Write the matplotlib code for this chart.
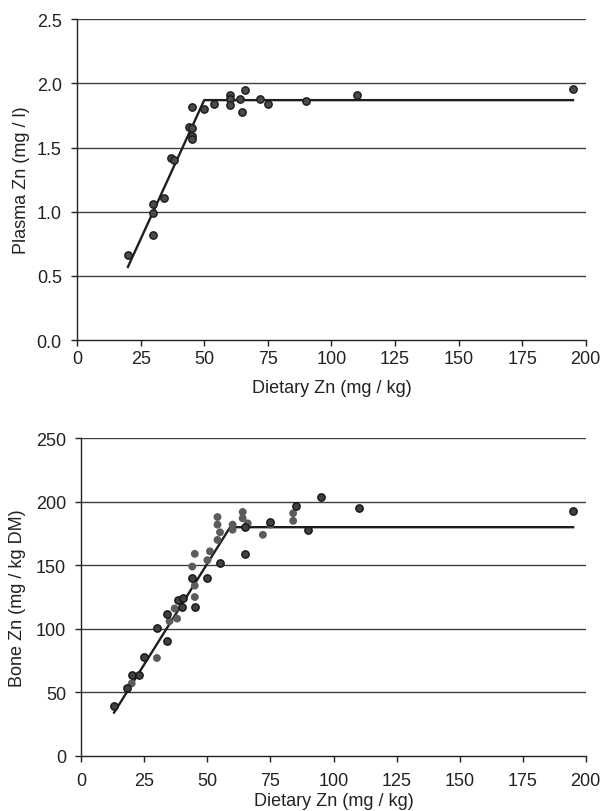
import matplotlib
matplotlib.use("Agg")
import matplotlib.pyplot as plt

plt.rcParams['font.family'] = ['Liberation Sans', 'DejaVu Sans']

# plasma Zn panel
plasma_x = [20, 30, 30, 30, 34, 37, 38, 44, 45, 45, 45, 45, 50, 54, 60, 60, 60, 64, 65, 66, 72, 75, 90, 110, 195]
plasma_y = [0.66, 0.82, 0.99, 1.06, 1.11, 1.42, 1.40, 1.66, 1.65, 1.59, 1.57, 1.82, 1.80, 1.84,
            1.91, 1.88, 1.83, 1.88, 1.78, 1.95, 1.88, 1.84, 1.86, 1.91, 1.96]
plasma_fit_x = [20, 50, 195]
plasma_fit_y = [0.57, 1.87, 1.87]

# bone Zn panel: two sets of points
bone_dark_x = [13, 18, 20, 23, 25, 30, 34, 34, 38.5, 40, 40.5, 44, 45, 50, 55, 65, 65, 75, 85, 90, 95, 110, 195]
bone_dark_y = [39, 53, 64, 64, 78, 101, 90, 112, 123, 117, 124, 140, 117, 140, 152, 180, 159, 184, 197, 178, 204, 195, 193]
bone_gray_x = [20, 30, 35, 37, 38, 44, 45, 45, 45, 50, 51, 54, 54, 54, 55, 60, 60, 64, 64, 66, 72, 75, 84, 84]
bone_gray_y = [57, 77, 106, 116, 108, 149, 159, 134, 125, 154, 161, 188, 182, 170, 176, 182, 178, 192, 187, 183, 174, 182, 191, 185]
bone_fit_x = [13, 59, 195]
bone_fit_y = [34, 180, 180]

fig = plt.figure(figsize=(6.02, 8.12), dpi=100)
ax1 = fig.add_axes([0.128, 0.580, 0.845, 0.395])
ax2 = fig.add_axes([0.135, 0.068, 0.838, 0.391])


def style(ax, yticks, ylabel, xpad, xlabelpad, ylabelpad):
    ax.set_xlim(0, 200)
    ax.set_xticks(range(0, 201, 25))
    ax.set_ylim(yticks[0], yticks[-1])
    ax.set_yticks(yticks)
    for y in yticks[1:]:
        ax.axhline(y, color="#3f3f3f", lw=1.0, zorder=1)
    for s in ("top", "right"):
        ax.spines[s].set_visible(False)
    for s in ("left", "bottom"):
        ax.spines[s].set_color("#222222")
        ax.spines[s].set_linewidth(1.0)
    ax.tick_params(direction="out", length=4, width=1.0, color="#222222",
                   labelsize=13, labelcolor="#222222")
    ax.tick_params(axis="y", pad=7)
    ax.tick_params(axis="x", pad=xpad)
    ax.set_xlabel("Dietary Zn (mg / kg)", fontsize=13, color="#222222", labelpad=xlabelpad)
    ax.set_ylabel(ylabel, fontsize=13, color="#222222", labelpad=ylabelpad)


style(ax1, [0.0, 0.5, 1.0, 1.5, 2.0, 2.5], "Plasma Zn (mg / l)", 3, 9, 5)
ax1.set_yticklabels(["0.0", "0.5", "1.0", "1.5", "2.0", "2.5"])
ax1.plot(plasma_fit_x, plasma_fit_y, color="#1e1e1e", lw=1.7, zorder=3)
ax1.scatter(plasma_x, plasma_y, s=28, c="#4a4a4a", edgecolors="#1a1a1a", linewidths=1.0, zorder=4)

style(ax2, [0, 50, 100, 150, 200, 250], "Bone Zn (mg / kg DM)", 8, 2, 7)
ax2.plot(bone_fit_x, bone_fit_y, color="#1e1e1e", lw=1.7, zorder=3)
ax2.scatter(bone_gray_x, bone_gray_y, s=32, c="#5c5c5c", edgecolors="none", zorder=4)
ax2.scatter(bone_dark_x, bone_dark_y, s=28, c="#404040", edgecolors="#151515", linewidths=1.0, zorder=5)

fig.savefig("out.png", dpi=100)
